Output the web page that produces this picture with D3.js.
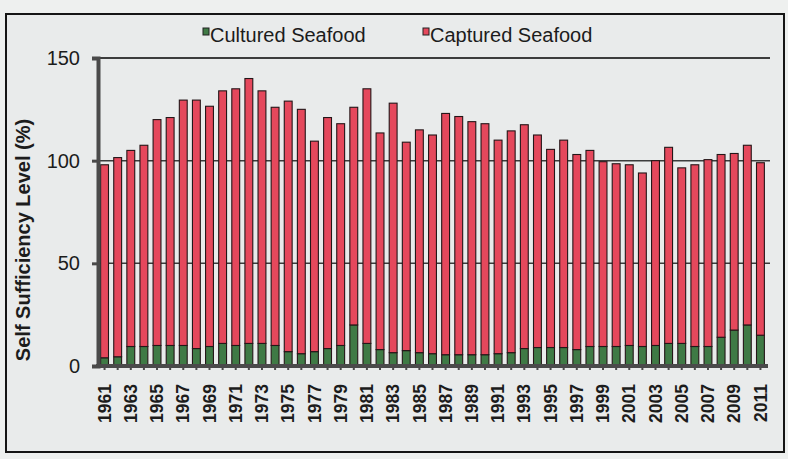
<!DOCTYPE html>
<html>
<head>
<meta charset="utf-8">
<script src="https://cdn.jsdelivr.net/npm/d3@7"></script>
<style>
  body { margin: 0; background: #eef0ef; }
  svg { display: block; font-family: 'Liberation Sans', Arial, sans-serif; }
</style>
</head>
<body>
<svg id="chart" width="788" height="459"></svg>
<script>
// years on the x axis
const years = [1961, 1962, 1963, 1964, 1965, 1966, 1967, 1968, 1969, 1970,
  1971, 1972, 1973, 1974, 1975, 1976, 1977, 1978, 1979, 1980,
  1981, 1982, 1983, 1984, 1985, 1986, 1987, 1988, 1989, 1990,
  1991, 1992, 1993, 1994, 1995, 1996, 1997, 1998, 1999, 2000,
  2001, 2002, 2003, 2004, 2005, 2006, 2007, 2008, 2009, 2010, 2011]

// self sufficiency (%) from cultured seafood
const cultured = [4, 4.5, 9.5, 9.5, 10, 10, 10, 8.5, 9.5, 11,
  10, 11, 11, 10, 7, 6, 7, 8.5, 10, 20,
  11, 8, 6.5, 7.5, 6.5, 6, 5.5, 5.5, 5.5, 5.5,
  6, 6.5, 8.5, 9, 9, 9, 8, 9.5, 9.5, 9.5,
  10, 9.5, 10, 11, 11, 9.5, 9.5, 14, 17.5, 20, 15]

// self sufficiency (%) from captured seafood
const captured = [94, 97, 95.5, 98, 110, 111, 119.5, 121, 117, 123,
  125, 129, 123, 116, 122, 119, 102.5, 112.5, 108, 106,
  124, 105.5, 121.5, 101.5, 108.5, 106.5, 117.5, 116, 113.5, 112.5,
  104, 108, 109, 103.5, 96.5, 101, 95, 95.5, 90, 89,
  88, 84.5, 90, 95.5, 85.5, 88.5, 91, 89, 86, 87.5, 84]

const seriesNames = ['Cultured Seafood', 'Captured Seafood']
const seriesColors = ['#3f7a45', '#e5485c']
const yTicks = [0, 50, 100, 150]
const labelYears = years.filter((d, i) => i % 2 === 0)

const svg = d3.select('#chart')

// scanned page frame
svg.append('rect')
  .attr('x', 6)
  .attr('y', 14)
  .attr('width', 778)
  .attr('height', 438)
  .attr('fill', '#e9ebeb')
  .attr('stroke', '#151515')
  .attr('stroke-width', 2)

const x = d3.scaleBand()
  .domain(years)
  .range([98, 767])
  .paddingInner(0.4)
  .paddingOuter(0.2)

const y = d3.scaleLinear()
  .domain([0, 150])
  .range([366, 58])

// gridlines
svg.append('g')
  .selectAll('line')
  .data(yTicks.filter(d => d > 0))
  .join('line')
  .attr('x1', 98)
  .attr('x2', 770)
  .attr('y1', d => y(d))
  .attr('y2', d => y(d))
  .attr('stroke', '#3c3c3c')
  .attr('stroke-width', d => d === 150 ? 2 : 1.5)

// stacked bars
const table = years.map((yr, i) => ({ year: yr, cultured: cultured[i], captured: captured[i] }))
const stack = d3.stack().keys(['cultured', 'captured'])(table)

svg.append('g')
  .selectAll('g')
  .data(stack)
  .join('g')
  .attr('fill', (d, i) => seriesColors[i])
  .selectAll('rect')
  .data(d => d)
  .join('rect')
  .attr('x', d => x(d.data.year))
  .attr('y', d => y(d[1]))
  .attr('width', x.bandwidth())
  .attr('height', d => y(d[0]) - y(d[1]))
  .attr('stroke', '#241618')
  .attr('stroke-width', 1.1)

// y axis
const yAxis = svg.append('g')
  .attr('transform', 'translate(98,0)')
  .call(d3.axisLeft(y).tickValues(yTicks).tickSize(6).tickPadding(12))

yAxis.select('.domain')
  .attr('stroke', '#4a4a4a')
  .attr('stroke-width', 4)
yAxis.selectAll('.tick line')
  .attr('stroke', '#4a4a4a')
  .attr('stroke-width', 3)
yAxis.selectAll('.tick text')
  .attr('font-size', '20px')
  .attr('font-family', "'Liberation Sans', Arial, sans-serif")
  .attr('fill', '#1c1c1c')

// x axis
const xAxis = svg.append('g')
  .attr('transform', 'translate(0,366)')
  .call(d3.axisBottom(x).tickSize(4).tickFormat(''))

xAxis.select('.domain')
  .attr('stroke', '#4a4a4a')
  .attr('stroke-width', 4)
  .attr('d', 'M96,0H768')
xAxis.selectAll('.tick line')
  .attr('stroke', '#4a4a4a')
  .attr('stroke-width', 2)

svg.append('g')
  .selectAll('text')
  .data(labelYears)
  .join('text')
  .attr('transform', d => `translate(${x(d) + x.bandwidth() / 2}, 384) rotate(-90)`)
  .attr('text-anchor', 'end')
  .attr('dy', '0.35em')
  .attr('font-size', '17.5px')
  .attr('font-weight', 'bold')
  .attr('fill', '#1c1c1c')
  .text(d => d)

// y axis title
svg.append('text')
  .attr('transform', 'translate(23, 240) rotate(-90)')
  .attr('text-anchor', 'middle')
  .attr('dominant-baseline', 'central')
  .attr('font-size', '20px')
  .attr('font-weight', 'bold')
  .attr('fill', '#1c1c1c')
  .text('Self Sufficiency Level (%)')

// legend
const legendX = [203, 423]
const legend = svg.append('g')
  .selectAll('g')
  .data(seriesNames)
  .join('g')
  .attr('transform', (d, i) => `translate(${legendX[i]}, 28)`)

legend.append('rect')
  .attr('width', 6)
  .attr('height', 7)
  .attr('fill', (d, i) => seriesColors[i])
  .attr('stroke', '#222')
  .attr('stroke-width', 1)

legend.append('text')
  .attr('x', 7)
  .attr('y', 14)
  .attr('font-size', '20px')
  .attr('fill', '#1c1c1c')
  .text(d => d)
</script>
</body>
</html>
